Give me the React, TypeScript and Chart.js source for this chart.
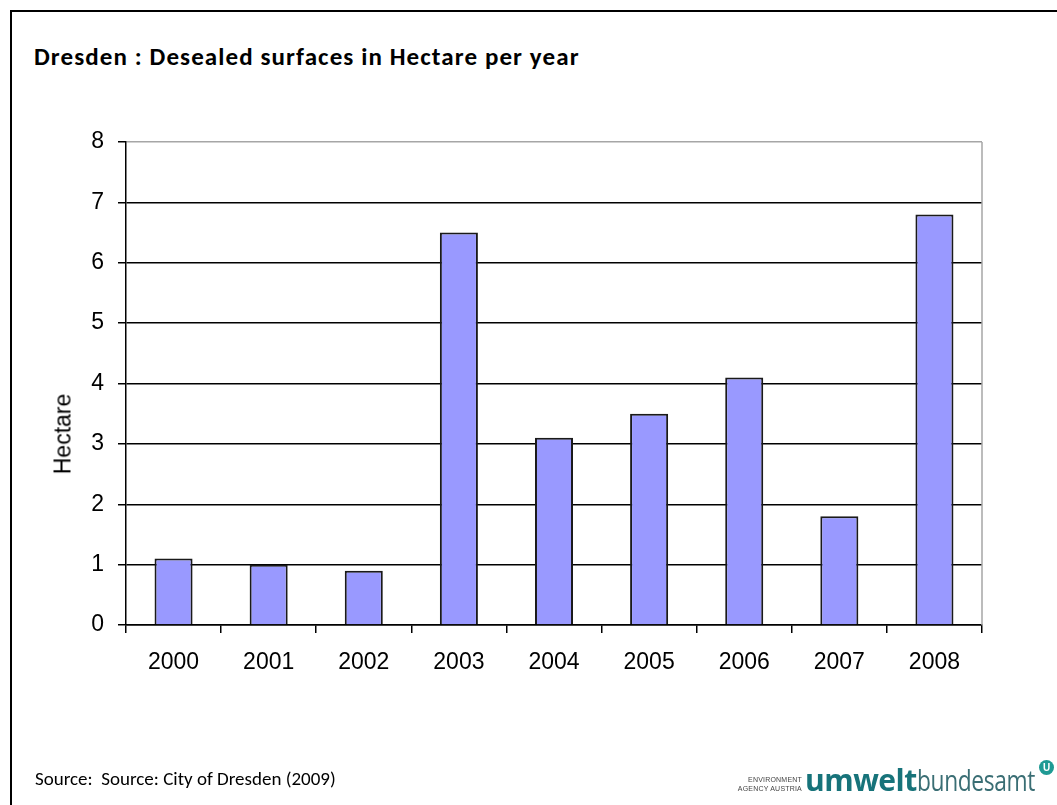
import React, { useEffect, useRef } from 'react';
import { Chart, registerables } from 'chart.js';

Chart.register(...registerables);

const years: string[] = ['2000', '2001', '2002', '2003', '2004', '2005', '2006', '2007', '2008'];
const hectares: number[] = [1.1, 1.0, 0.9, 6.5, 3.1, 3.5, 4.1, 1.8, 6.8];
const yMin = 0;
const yMax = 8;
const yStep = 1;

const W = 1057;
const H = 805;
const AREA = { left: 126, top: 142, right: 982, bottom: 625 };
const X_AXIS_H = 80;

const borderPlugin = {
  id: 'rightBorder',
  afterDraw(chart: any) {
    const { ctx, chartArea } = chart;
    ctx.save();
    ctx.strokeStyle = '#a6a6a6';
    ctx.lineWidth = 1.5;
    ctx.beginPath();
    ctx.moveTo(chartArea.right, chartArea.top);
    ctx.lineTo(chartArea.right, chartArea.bottom);
    ctx.stroke();
    ctx.restore();
  },
};

export default function App() {
  const ref = useRef<HTMLCanvasElement | null>(null);

  useEffect(() => {
    if (!ref.current) return;
    const chart = new Chart(ref.current, {
      type: 'bar',
      data: {
        labels: years,
        datasets: [
          {
            label: 'Hectare',
            data: hectares,
            backgroundColor: '#9999ff',
            borderColor: '#1a1a1a',
            borderWidth: 2,
            categoryPercentage: 1,
            barPercentage: 0.4,
          },
        ],
      },
      options: {
        responsive: false,
        animation: false,
        devicePixelRatio: 1,
        layout: {
          padding: {
            left: 0,
            top: AREA.top,
            right: W - AREA.right,
            bottom: H - AREA.bottom - X_AXIS_H,
          },
        },
        plugins: {
          legend: { display: false },
          tooltip: { enabled: false },
          title: { display: false },
        },
        scales: {
          x: {
            offset: true,
            grid: {
              display: true,
              drawOnChartArea: false,
              drawTicks: true,
              tickLength: 8,
              color: '#000',
              tickColor: '#000',
              lineWidth: 1.5,
              offset: true,
            },
            border: { display: true, color: '#000', width: 1.5 },
            ticks: {
              color: '#000',
              font: { family: '"Liberation Sans", Arial, sans-serif', size: 23 },
              padding: 16,
              maxRotation: 0,
              autoSkip: false,
            },
            afterFit(scale: any) {
              scale.height = X_AXIS_H;
            },
          },
          y: {
            min: yMin,
            max: yMax,
            grid: {
              color: (ctx: any) => (ctx.tick && ctx.tick.value === yMax ? '#a6a6a6' : '#000'),
              tickColor: '#000',
              lineWidth: 1.5,
              tickLength: 8,
              drawTicks: true,
            },
            border: { display: true, color: '#000', width: 1.5 },
            ticks: {
              stepSize: yStep,
              color: '#000',
              font: { family: '"Liberation Sans", Arial, sans-serif', size: 23 },
              padding: 14,
            },
            afterFit(scale: any) {
              scale.width = AREA.left;
            },
          },
        },
      },
      plugins: [borderPlugin],
    });
    return () => chart.destroy();
  }, []);

  return (
    <div
      style={{
        position: 'fixed',
        left: 0,
        top: 0,
        width: W,
        height: H,
        overflow: 'hidden',
        background: '#fff',
      }}
    >
      <div
        style={{
          position: 'absolute',
          left: 10,
          top: 10,
          width: 1200,
          height: 1000,
          borderLeft: '2px solid #000',
          borderTop: '2px solid #000',
        }}
      />
      <div
        style={{
          position: 'absolute',
          left: 34,
          top: 41,
          fontFamily: 'Carlito, Lato, "Open Sans", sans-serif',
          fontWeight: 700,
          fontSize: 25,
          letterSpacing: 1.1,
          lineHeight: '32px',
          color: '#000',
          whiteSpace: 'nowrap',
        }}
      >
        Dresden : Desealed surfaces in Hectare per year
      </div>
      <canvas
        ref={ref}
        width={W}
        height={H}
        style={{ position: 'absolute', left: 0, top: 0, width: W, height: H }}
      />
      <div
        style={{
          position: 'absolute',
          left: 63,
          top: 434,
          transform: 'translate(-50%, -50%) rotate(-90deg)',
          fontFamily: '"Liberation Sans", Arial, sans-serif',
          fontSize: 23,
          color: '#000',
          whiteSpace: 'nowrap',
        }}
      >
        Hectare
      </div>
      <div
        style={{
          position: 'absolute',
          left: 35,
          top: 766,
          fontFamily: 'Carlito, Lato, "Open Sans", sans-serif',
          fontSize: 19,
          lineHeight: '26px',
          color: '#000',
          whiteSpace: 'nowrap',
        }}
      >
        Source:&nbsp; Source: City of Dresden (2009)
      </div>
      <div
        style={{
          position: 'absolute',
          left: 730,
          top: 775,
          width: 72,
          textAlign: 'right',
          fontFamily: '"Liberation Sans", Arial, sans-serif',
          fontSize: 7,
          lineHeight: '9px',
          color: '#444',
          letterSpacing: 0.2,
          whiteSpace: 'nowrap',
        }}
      >
        ENVIRONMENT
        <br />
        AGENCY AUSTRIA
      </div>
      <div
        style={{
          position: 'absolute',
          left: 805,
          top: 760,
          fontFamily: '"Open Sans", "Noto Sans", sans-serif',
          fontSize: 30,
          lineHeight: '40px',
          whiteSpace: 'nowrap',
          letterSpacing: -0.5,
        }}
      >
        <span style={{ fontWeight: 700, color: '#17737a' }}>umwelt</span>
        <span
          style={{
            display: 'inline-block',
            fontWeight: 400,
            color: '#3a6e74',
            transform: 'scaleX(0.76)',
            transformOrigin: 'left center',
          }}
        >
          bundesamt
        </span>
      </div>
      <div
        style={{
          position: 'absolute',
          left: 1039,
          top: 760,
          width: 15,
          height: 15,
          borderRadius: '50%',
          background: '#1f9a94',
          color: '#fff',
          fontFamily: '"Liberation Sans", Arial, sans-serif',
          fontWeight: 700,
          fontSize: 10,
          lineHeight: '15px',
          textAlign: 'center',
        }}
      >
        U
      </div>
    </div>
  );
}
